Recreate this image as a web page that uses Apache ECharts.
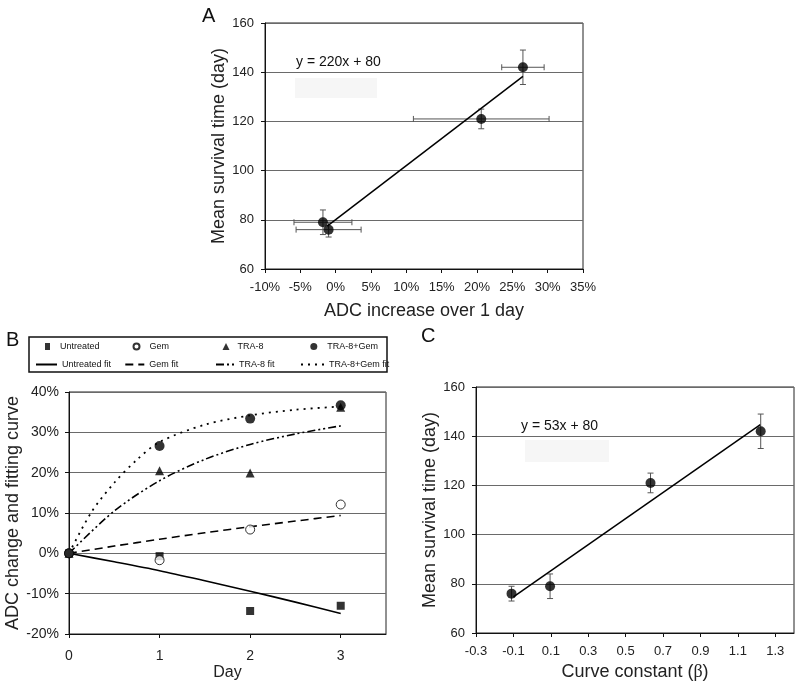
<!DOCTYPE html>
<html>
<head>
<meta charset="utf-8">
<script src="https://cdn.jsdelivr.net/npm/echarts@6/dist/echarts.min.js"></script>
<style>html,body{margin:0;padding:0;background:#fff}#c{width:800px;height:687px}</style>
</head>
<body>
<div id="c"></div>
<script>
// ---- Panel A data ----
const A_x = [-1.8, -1.0, 20.6, 26.5];
const A_y = [79, 76, 121, 142];
const A_xErr = [4.1, 4.6, 9.6, 3.0];
const A_yErr = [5, 3, 4, 7];
const A_fitX = [-1.2, 26.5];
const A_fitY = [77.4, 138.3];
const A_equation = 'y = 220x + 80';

// ---- Panel B data ----
const B_days = [0, 1, 2, 3];
const B_untreated = [0, -0.7, -14.3, -13.0];
const B_gem = [0, -1.7, 5.9, 12.1];
const B_tra8 = [0, 20.5, 19.9, 36.2];
const B_tra8gem = [0, 26.6, 33.4, 36.7];
const B_fitDays = [0, 0.5, 1, 1.5, 2, 2.5, 3];
const B_untreatedFit = [0, -2.1, -4.3, -6.8, -9.4, -12.1, -14.9];
const B_gemFit = [0, 1.8, 3.5, 5.1, 6.6, 8.0, 9.4];
const B_tra8Fit = [0, 10.5, 18.0, 23.3, 27.0, 29.6, 31.6];
const B_tra8gemFitDays = [0, 0.25, 0.5, 0.75, 1, 1.5, 2, 2.5, 3];
const B_tra8gemFit = [0, 10.3, 17.5, 23.2, 27.6, 31.9, 34.2, 35.6, 36.4];

// ---- Panel C data ----
const C_x = [-0.11, 0.096, 0.633, 1.222];
const C_y = [76, 79, 121, 142];
const C_yErr = [3, 5, 4, 7];
const C_fitX = [-0.1, 1.22];
const C_fitY = [74.7, 144.7];
const C_equation = 'y = 53x + 80';

const FONT = 'Liberation Sans, Arial, sans-serif';
const zip = (xs, ys) => xs.map((x, i) => [x, ys[i]]);

function errItem(params, api) {
  const x = api.value(0), y = api.value(1), ex = api.value(2), ey = api.value(3);
  const st = { stroke: '#555', lineWidth: 1 };
  const L = (x1, y1, x2, y2) => ({ type: 'line', shape: { x1, y1, x2, y2 }, style: st });
  const kids = [];
  if (ey > 0) {
    const t = api.coord([x, y + ey]), b = api.coord([x, y - ey]);
    kids.push(L(t[0], t[1], b[0], b[1]), L(t[0] - 3, t[1], t[0] + 3, t[1]), L(b[0] - 3, b[1], b[0] + 3, b[1]));
  }
  if (ex > 0) {
    const l = api.coord([x - ex, y]), r = api.coord([x + ex, y]);
    kids.push(L(l[0], l[1], r[0], r[1]), L(l[0], l[1] - 3, l[0], l[1] + 3), L(r[0], r[1] - 3, r[0], r[1] + 3));
  }
  return { type: 'group', children: kids };
}

function valAxis(gridIndex, o) {
  return Object.assign({
    type: 'value', gridIndex,
    axisLine: { show: true, onZero: false, lineStyle: { color: '#111', width: 1 } },
    axisTick: { show: true, inside: false, length: 4, lineStyle: { color: '#111' } },
    axisLabel: { color: '#222', fontSize: 13, fontFamily: FONT, margin: 11 },
    splitLine: { show: true, lineStyle: { color: '#6a6a6a', width: 1 } },
    nameTextStyle: { color: '#222', fontSize: 18, fontFamily: FONT },
    nameLocation: 'middle'
  }, o);
}

const gridStyle = { show: true, borderColor: '#222', borderWidth: 1, backgroundColor: 'transparent' };

function legendItem(name, icon, left, top, w, h, pad, hideSymbol) {
  const lg = {
    data: [icon ? { name, icon } : { name }], left, top, itemWidth: w, itemHeight: h, padding: 0, itemGap: 0,
    selectedMode: false,
    textStyle: { fontFamily: FONT, fontSize: 9, color: '#111', padding: [0, 0, 0, pad] }
  };
  if (hideSymbol) lg.itemStyle = { opacity: 0 };
  return lg;
}

const option = {
  animation: false,
  backgroundColor: '#fff',
  textStyle: { fontFamily: FONT },
  grid: [
    Object.assign({ left: 265, top: 23, width: 318, height: 246 }, gridStyle),
    Object.assign({ left: 69, top: 392, width: 317, height: 242 }, gridStyle),
    Object.assign({ left: 476, top: 387, width: 318, height: 246 }, gridStyle)
  ],
  xAxis: [
    valAxis(0, { min: -10, max: 35, interval: 5, splitLine: { show: false },
      axisLabel: { color: '#222', fontSize: 13, fontFamily: FONT, margin: 12, formatter: '{value}%' },
      name: 'ADC increase over 1 day', nameGap: 33 }),
    valAxis(1, { min: 0, max: 3.5, interval: 1, splitLine: { show: false },
      axisLabel: { color: '#222', fontSize: 14, fontFamily: FONT, margin: 15, showMaxLabel: false },
      name: 'Day', nameGap: 31, nameTextStyle: { color: '#222', fontSize: 16, fontFamily: FONT } }),
    valAxis(2, { min: -0.3, max: 1.4, interval: 0.2, splitLine: { show: false },
      axisLabel: { color: '#222', fontSize: 13, fontFamily: FONT, margin: 12, showMaxLabel: false,
        formatter: v => (Math.round(v * 10) / 10).toFixed(1) },
      name: '{a|Curve constant (}{b|β}{a|)}', nameGap: 30,
      nameTextStyle: { color: '#222', fontSize: 18, fontFamily: FONT,
        rich: { a: { fontSize: 18, fontFamily: FONT, color: '#222' }, b: { fontSize: 18, fontFamily: 'Liberation Serif, DejaVu Serif, serif', color: '#222' } } } })
  ],
  yAxis: [
    valAxis(0, { min: 60, max: 160, interval: 20, name: 'Mean survival time (day)', nameGap: 34 }),
    valAxis(1, { min: -20, max: 40, interval: 10,
      axisLabel: { color: '#222', fontSize: 14, fontFamily: FONT, margin: 10, formatter: '{value}%' },
      name: 'ADC change and fitting curve', nameGap: 43 }),
    valAxis(2, { min: 60, max: 160, interval: 20, name: 'Mean survival time (day)', nameGap: 34 })
  ],
  legend: [
    legendItem('Untreated', 'rect', 45, 342, 5, 7, 5),
    legendItem('Gem', 'circle', 132.5, 342, 6, 6, 5),
    legendItem('TRA-8', 'triangle', 222.5, 342, 7, 7, 3),
    legendItem('TRA-8+Gem', 'circle', 310.3, 342, 7, 7, 5),
    legendItem('Untreated fit', null, 35, 360, 21, 8, 0, true),
    legendItem('Gem fit', null, 124.3, 360, 19, 8, 0, true),
    legendItem('TRA-8 fit', null, 215, 360, 18, 8, 0, true),
    legendItem('TRA-8+Gem fit', null, 300, 360, 23, 8, 0, true)
  ],
  series: [
    // Panel A
    { type: 'custom', name: 'A err', xAxisIndex: 0, yAxisIndex: 0, renderItem: errItem, clip: false, z: 2,
      encode: { x: 0, y: 1 }, data: A_x.map((x, i) => [x, A_y[i], A_xErr[i], A_yErr[i]]) },
    { type: 'line', name: 'A fit', xAxisIndex: 0, yAxisIndex: 0, symbol: 'none', z: 3,
      lineStyle: { color: '#000', width: 1.5 }, data: zip(A_fitX, A_fitY) },
    { type: 'scatter', name: 'A pts', xAxisIndex: 0, yAxisIndex: 0, symbol: 'circle', symbolSize: 10, z: 4,
      itemStyle: { color: '#000' }, data: zip(A_x, A_y) },
    // Panel B fits
    { type: 'line', name: 'Untreated fit', xAxisIndex: 1, yAxisIndex: 1, symbol: 'none', smooth: 0.3, z: 3,
      color: '#000', lineStyle: { color: '#000', width: 1.6 }, data: zip(B_fitDays, B_untreatedFit) },
    { type: 'line', name: 'Gem fit', xAxisIndex: 1, yAxisIndex: 1, symbol: 'none', smooth: 0.3, z: 3,
      color: '#000', lineStyle: { color: '#000', width: 1.6, type: [8, 5] }, data: zip(B_fitDays, B_gemFit) },
    { type: 'line', name: 'TRA-8 fit', xAxisIndex: 1, yAxisIndex: 1, symbol: 'none', smooth: 0.3, z: 3,
      color: '#000', lineStyle: { color: '#000', width: 1.6, type: [8, 3, 2, 3, 2, 3] }, data: zip(B_fitDays, B_tra8Fit) },
    { type: 'line', name: 'TRA-8+Gem fit', xAxisIndex: 1, yAxisIndex: 1, symbol: 'none', smooth: 0.3, z: 3,
      color: '#000', lineStyle: { color: '#000', width: 1.8, type: [2, 5] }, data: zip(B_tra8gemFitDays, B_tra8gemFit) },
    // Panel B points
    { type: 'scatter', name: 'Untreated', xAxisIndex: 1, yAxisIndex: 1, symbol: 'rect', symbolSize: 8, z: 4,
      itemStyle: { color: '#000' }, data: zip(B_days, B_untreated) },
    { type: 'scatter', name: 'Gem', xAxisIndex: 1, yAxisIndex: 1, symbol: 'circle', symbolSize: 9, z: 5,
      itemStyle: { color: '#fff', borderColor: '#000', borderWidth: 1 }, data: zip(B_days, B_gem) },
    { type: 'scatter', name: 'TRA-8', xAxisIndex: 1, yAxisIndex: 1, symbol: 'triangle', symbolSize: 9, z: 4,
      itemStyle: { color: '#000' }, data: zip(B_days, B_tra8) },
    { type: 'scatter', name: 'TRA-8+Gem', xAxisIndex: 1, yAxisIndex: 1, symbol: 'circle', symbolSize: 10, z: 6,
      itemStyle: { color: '#000' }, data: zip(B_days, B_tra8gem) },
    // Panel C
    { type: 'custom', name: 'C err', xAxisIndex: 2, yAxisIndex: 2, renderItem: errItem, clip: false, z: 2,
      encode: { x: 0, y: 1 }, data: C_x.map((x, i) => [x, C_y[i], 0, C_yErr[i]]) },
    { type: 'line', name: 'C fit', xAxisIndex: 2, yAxisIndex: 2, symbol: 'none', z: 3,
      lineStyle: { color: '#000', width: 1.5 }, data: zip(C_fitX, C_fitY) },
    { type: 'scatter', name: 'C pts', xAxisIndex: 2, yAxisIndex: 2, symbol: 'circle', symbolSize: 10, z: 4,
      itemStyle: { color: '#000' }, data: zip(C_x, C_y) }
  ],
  graphic: [
    { type: 'text', left: 202, top: 6, style: { text: 'A', fontSize: 20, fontFamily: FONT, fill: '#111' } },
    { type: 'text', left: 6, top: 330, style: { text: 'B', fontSize: 20, fontFamily: FONT, fill: '#111' } },
    { type: 'text', left: 421, top: 326, style: { text: 'C', fontSize: 20, fontFamily: FONT, fill: '#111' } },
    { type: 'rect', shape: { x: 295, y: 78, width: 82, height: 20 }, style: { fill: '#f6f6f6' }, z: 0 },
    { type: 'text', left: 296, top: 55, style: { text: A_equation, fontSize: 14, fontFamily: FONT, fill: '#111' } },
    { type: 'rect', shape: { x: 525, y: 440, width: 84, height: 22 }, style: { fill: '#f6f6f6' }, z: 0 },
    { type: 'text', left: 521, top: 419, style: { text: C_equation, fontSize: 14, fontFamily: FONT, fill: '#111' } },
    { type: 'rect', shape: { x: 29, y: 337, width: 358, height: 35 }, style: { fill: 'none', stroke: '#111', lineWidth: 1.5 } }
  ]
};

const chart = echarts.init(document.getElementById('c'), null, { renderer: 'canvas' });
chart.setOption(option);
</script>
</body>
</html>
